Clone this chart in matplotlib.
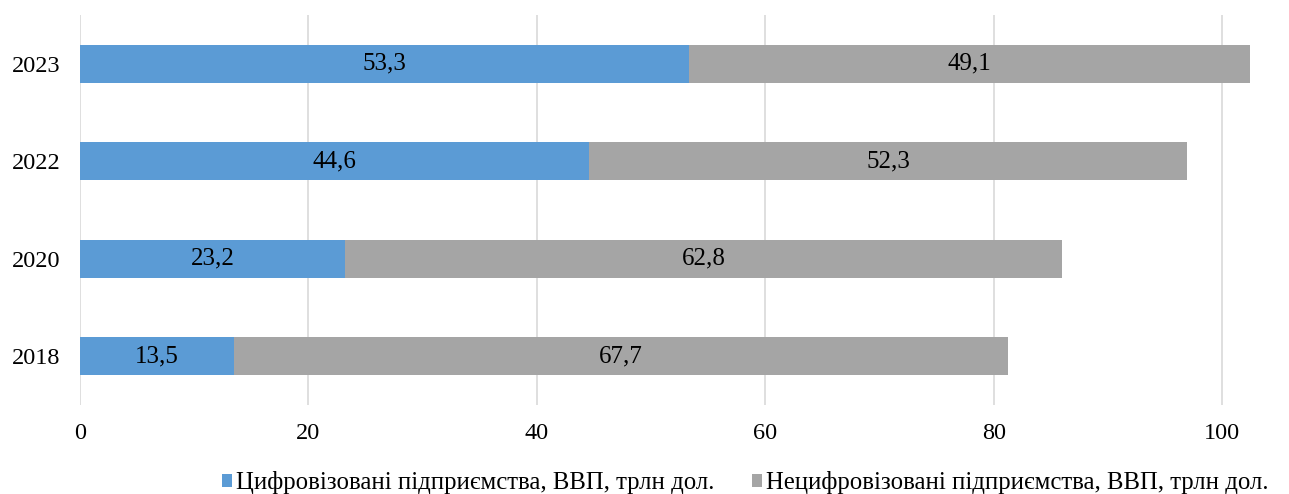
import numpy as np
import matplotlib.pyplot as plt

plt.rcParams['font.family'] = ['Liberation Serif', 'DejaVu Serif']

# дані
years = ['2018', '2020', '2022', '2023']
digital = [13.5, 23.2, 44.6, 53.3]
non_digital = [67.7, 62.8, 52.3, 49.1]
labels = ['Цифровізовані підприємства, ВВП, трлн дол.',
          'Нецифровізовані підприємства, ВВП, трлн дол.']

blue = '#5B9BD5'
gray = '#A5A5A5'

fig = plt.figure(figsize=(12.89, 4.94), dpi=100)
ax = fig.add_axes([0.062, 0.18, 0.935, 0.79])

y = np.arange(len(years))
b1 = ax.barh(y, digital, height=0.39, color=blue, label=labels[0], zorder=3)
b2 = ax.barh(y, non_digital, left=digital, height=0.39, color=gray, label=labels[1], zorder=3)

for bars, vals in ((b1, digital), (b2, non_digital)):
    for rect, v in zip(bars, vals):
        cx = rect.get_x() + rect.get_width() / 2
        cy = rect.get_y() + rect.get_height() / 2
        ax.text(cx, cy, f'{v:.1f}'.replace('.', ','), ha='center', va='center',
                fontsize=18, color='black', zorder=4)

ax.set_xlim(0, 105.5)
ax.set_ylim(-0.5, len(years) - 0.5)
ax.set_xticks([0, 20, 40, 60, 80, 100])
ax.set_yticks(y)
ax.set_yticklabels(years)
ax.tick_params(axis='both', length=0, labelsize=17.5, colors='black')
ax.tick_params(axis='x', pad=13)
ax.tick_params(axis='y', pad=14)
ax.xaxis.grid(True, color='#D9D9D9', linewidth=1.2, zorder=0)
for s in ax.spines.values():
    s.set_visible(False)

fig.legend(handles=[b1, b2], loc='lower center', bbox_to_anchor=(0.578, -0.045),
           ncol=2, frameon=False, fontsize=17.8, handlelength=0.42, handleheight=0.42,
           handletextpad=0.15, columnspacing=1.5)

fig.savefig('out.png', dpi=100)
